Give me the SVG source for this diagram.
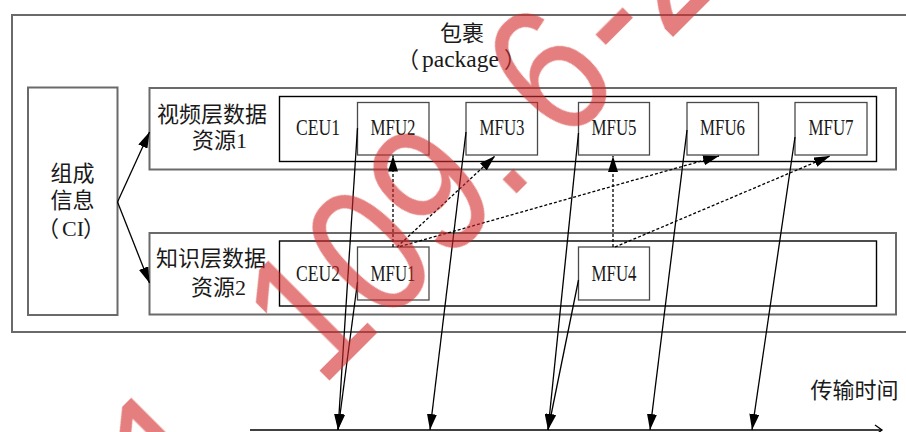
<svg xmlns="http://www.w3.org/2000/svg" width="906" height="432" viewBox="0 0 906 432">
<style>
.frame{fill:none;stroke:#6a6a6a;stroke-width:2}
.inner{fill:none;stroke:#000;stroke-width:1.4}
.unit{fill:none;stroke:#4a4a4a;stroke-width:1.3}
.cjk{font-family:"Liberation Serif","Noto Sans CJK SC",serif;font-size:22px;fill:#1a1a1a}
.lat{font-family:"Liberation Serif",serif;font-size:23px;fill:#1a1a1a;text-anchor:middle}
.solid{fill:none;stroke:#000;stroke-width:1.3}
.dot{fill:none;stroke:#000;stroke-width:1.3;stroke-dasharray:3 2}
</style>
<defs>
<marker id="ah" viewBox="0 0 16 10" refX="16" refY="5" markerWidth="16" markerHeight="10" markerUnits="userSpaceOnUse" orient="auto">
<path d="M0,0 L16,5 L0,10 z" fill="#000"/>
</marker>
</defs>
<rect width="906" height="432" fill="#fff"/>

<g id="package">
<rect class="frame" x="12" y="15" width="910" height="317"/>
<text class="cjk" x="462" y="41" text-anchor="middle" font-size="21.5">包裹</text>
<text class="cjk" y="67" font-size="21"><tspan x="397">（</tspan><tspan x="422" font-size="23.5">package</tspan><tspan x="504">）</tspan></text>
</g>

<g id="ci">
<rect class="frame" x="28" y="87.5" width="89.5" height="227.5" stroke-width="1.6"/>
<text class="cjk" x="72.5" y="181" text-anchor="middle" font-size="21.5">组成</text>
<text class="cjk" x="72.5" y="208" text-anchor="middle" font-size="21.5">信息</text>
<text class="cjk" y="236" font-size="21"><tspan x="37">（</tspan><tspan x="62" font-size="22">CI</tspan><tspan x="83">）</tspan></text>
</g>

<g id="video-layer">
<rect class="frame" x="149.5" y="88" width="746.5" height="81.5"/>
<rect class="inner" x="279.5" y="96.5" width="597" height="65"/>
<text class="cjk" x="157" y="122">视频层数据</text>
<text class="cjk" x="192" y="148">资源1</text>
<text class="lat" x="318" y="135" textLength="44" lengthAdjust="spacingAndGlyphs">CEU1</text>
</g>

<g id="knowledge-layer">
<rect class="frame" x="149.5" y="233" width="746.5" height="81.5"/>
<rect class="inner" x="279.5" y="241" width="597" height="65"/>
<text class="cjk" x="156" y="266">知识层数据</text>
<text class="cjk" x="191" y="295">资源2</text>
<text class="lat" x="318" y="281" textLength="44" lengthAdjust="spacingAndGlyphs">CEU2</text>
</g>

<g id="mfu2"><rect class="unit" x="357.5" y="102.5" width="71.5" height="52.5"/><text class="lat" x="393" y="135" textLength="45" lengthAdjust="spacingAndGlyphs">MFU2</text></g>
<g id="mfu3"><rect class="unit" x="466" y="102.5" width="71.5" height="52.5"/><text class="lat" x="502" y="135" textLength="45" lengthAdjust="spacingAndGlyphs">MFU3</text></g>
<g id="mfu5"><rect class="unit" x="578.5" y="102.5" width="71" height="52.5"/><text class="lat" x="614" y="135" textLength="45" lengthAdjust="spacingAndGlyphs">MFU5</text></g>
<g id="mfu6"><rect class="unit" x="687" y="102.5" width="71.5" height="52.5"/><text class="lat" x="722.5" y="135" textLength="45" lengthAdjust="spacingAndGlyphs">MFU6</text></g>
<g id="mfu7"><rect class="unit" x="795" y="102.5" width="72" height="52.5"/><text class="lat" x="831" y="135" textLength="45" lengthAdjust="spacingAndGlyphs">MFU7</text></g>
<g id="mfu1"><rect class="unit" x="357.5" y="247" width="71.5" height="53"/><text class="lat" x="393" y="281" textLength="45" lengthAdjust="spacingAndGlyphs">MFU1</text></g>
<g id="mfu4"><rect class="unit" x="578.5" y="247" width="71" height="53"/><text class="lat" x="614" y="281" textLength="45" lengthAdjust="spacingAndGlyphs">MFU4</text></g>

<g id="timeline">
<line class="solid" x1="250" y1="430" x2="882" y2="430"/>
<polyline class="solid" points="875,425 882,430 875,435"/>
<text class="cjk" x="854.5" y="398" text-anchor="middle" font-size="21.5">传输时间</text>
</g>

<g id="connectors">
<line class="solid" x1="117.5" y1="202" x2="149.5" y2="132" marker-end="url(#ah)"/>
<line class="solid" x1="117.5" y1="202" x2="149.5" y2="283" marker-end="url(#ah)"/>
<line class="solid" x1="357.5" y1="128" x2="338" y2="430" marker-end="url(#ah)"/>
<line class="solid" x1="357.5" y1="282" x2="338" y2="430" marker-end="url(#ah)"/>
<line class="solid" x1="466" y1="132" x2="430" y2="430" marker-end="url(#ah)"/>
<line class="solid" x1="578.5" y1="133" x2="548" y2="430" marker-end="url(#ah)"/>
<line class="solid" x1="578.5" y1="280" x2="548" y2="430" marker-end="url(#ah)"/>
<line class="solid" x1="687" y1="130" x2="650" y2="430" marker-end="url(#ah)"/>
<line class="solid" x1="795" y1="137" x2="752" y2="430" marker-end="url(#ah)"/>
<line class="dot" x1="393" y1="247" x2="393" y2="155.5" marker-end="url(#ah)"/>
<line class="dot" x1="397" y1="247" x2="495" y2="156" marker-end="url(#ah)"/>
<line class="dot" x1="400" y1="246.5" x2="719" y2="156" marker-end="url(#ah)"/>
<line class="dot" x1="613" y1="247" x2="613" y2="156" marker-end="url(#ah)"/>
<line class="dot" x1="615" y1="247" x2="830" y2="156" marker-end="url(#ah)"/>
</g>

<g id="watermark" opacity="0.6" fill="#d42a2a" font-family="Liberation Sans, sans-serif" font-size="185">
<text transform="translate(321,389) rotate(-45) scale(0.85,1)">109.<tspan dx="42">6</tspan><tspan dx="10">-2</tspan></text>
<text transform="translate(321,389) rotate(-45) scale(0.85,1)" x="-228">1</text>
</g>
</svg>
